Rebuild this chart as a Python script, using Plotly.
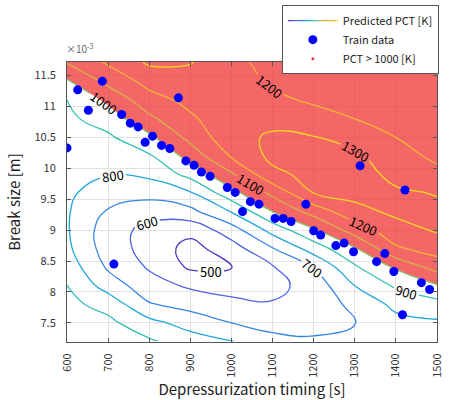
import plotly.graph_objects as go

FONT = "Noto Sans CJK JP"

# Prediction grid (depressurization timing [s], break size [x1e-3 m])
grid_x = [600, 700, 800, 900, 1000, 1100, 1200, 1300, 1400, 1500]
grid_y = [7.2, 7.5, 7.8, 8.1, 8.4, 8.7, 9.0, 9.3, 9.6, 9.9, 10.2, 10.5, 10.8, 11.1, 11.4, 11.72]

# Predicted PCT [K], one list per timing column (bottom -> top)
pct_t600 = [980, 953, 927, 901, 860, 822, 810, 810, 818, 830, 845, 862, 880, 898, 984, 1110]
pct_t700 = [955, 925, 864, 756, 685, 650, 645, 690, 748, 805, 845, 884, 943, 1022, 1126, 1215]
pct_t800 = [915, 831, 708, 640, 590, 565, 570, 638, 736, 820, 889, 978, 1079, 1159, 1233, 1315]
pct_t900 = [850, 757, 664, 586, 485, 465, 530, 671, 790, 931, 1038, 1130, 1184, 1227, 1265, 1305]
pct_t1000 = [805, 700, 627, 560, 495, 555, 652, 806, 964, 1085, 1210, 1265, 1265, 1265, 1255, 1240]
pct_t1100 = [725, 672, 608, 570, 592, 693, 837, 1000, 1125, 1275, 1325, 1315, 1270, 1224, 1185, 1150]
pct_t1200 = [715, 665, 630, 640, 705, 845, 986, 1140, 1300, 1330, 1335, 1305, 1243, 1185, 1165, 1150]
pct_t1300 = [730, 695, 730, 800, 886, 989, 1147, 1269, 1330, 1345, 1320, 1257, 1200, 1170, 1155, 1145]
pct_t1400 = [750, 770, 824, 915, 1014, 1185, 1262, 1320, 1315, 1273, 1237, 1200, 1175, 1160, 1150, 1145]
pct_t1500 = [765, 785, 862, 990, 1140, 1244, 1310, 1320, 1295, 1225, 1180, 1165, 1155, 1150, 1148, 1145]

# Training data
train_x = [600, 626, 652, 686, 733, 754, 773, 790, 808, 830, 850, 871, 889, 909, 927, 948,
           990, 1009, 1027, 1046, 1067, 1106, 1126, 1145, 1181, 1200, 1217, 1254, 1274, 1297,
           1313, 1353, 1373, 1395, 1416, 1422, 1462, 1482, 1500, 714]
train_y = [10.33, 11.27, 10.94, 11.41, 10.87, 10.73, 10.67, 10.42, 10.52, 10.37, 10.32, 11.14,
           10.12, 10.05, 9.94, 9.87, 9.69, 9.61, 9.30, 9.46, 9.42, 9.19, 9.19, 9.14, 9.42, 8.99,
           8.92, 8.75, 8.79, 8.65, 10.04, 8.49, 8.62, 8.33, 7.63, 9.65, 8.15, 8.04, 11.66, 8.45]

x_ticks = [600, 700, 800, 900, 1000, 1100, 1200, 1300, 1400, 1500]
y_ticks = [7.5, 8, 8.5, 9, 9.5, 10, 10.5, 11, 11.5]
y_tick_text = ["7.5", "8", "8.5", "9", "9.5", "10", "10.5", "11", "11.5"]

levels_start, levels_end, levels_step = 500, 1300, 100
threshold = 1000

columns = [pct_t600, pct_t700, pct_t800, pct_t900, pct_t1000,
           pct_t1100, pct_t1200, pct_t1300, pct_t1400, pct_t1500]
z = [list(row) for row in zip(*columns)]

line_colors = ["#4b3cbf", "#4d63e3", "#3585e6", "#1fa6da", "#35bfb4",
               "#86c46e", "#d3b447", "#f5b532", "#f3d81e"]
n = len(line_colors)
colorscale = [[i / (n - 1), c] for i, c in enumerate(line_colors)]

fig = go.Figure()

# Region where predicted PCT > 1000 K (plotly shades the side failing the constraint)
fig.add_trace(go.Contour(
    x=grid_x, y=grid_y, z=z,
    contours=dict(type="constraint", operation="<", value=threshold),
    fillcolor="rgba(240,50,50,0.74)",
    line=dict(width=0, smoothing=1.3),
    showscale=False, showlegend=False, hoverinfo="skip",
))

fig.add_trace(go.Contour(
    x=grid_x, y=grid_y, z=z,
    name="Predicted PCT [K]",
    autocontour=False,
    contours=dict(start=levels_start, end=levels_end, size=levels_step,
                  coloring="lines", showlabels=True,
                  labelfont=dict(size=13, color="black", family=FONT)),
    colorscale=colorscale, zmin=levels_start, zmax=levels_end,
    line=dict(width=1.3, smoothing=1.3),
    showscale=False, showlegend=True, hoverinfo="skip",
))

fig.add_trace(go.Scatter(
    x=train_x, y=train_y, mode="markers", name="Train data",
    marker=dict(color="#0000ff", size=9, line=dict(width=0)),
))

fig.add_trace(go.Scatter(
    x=[None], y=[None], mode="markers", name="PCT > 1000 [K]",
    marker=dict(color="#ff3030", size=3),
))

fig.update_layout(
    width=449, height=400,
    margin=dict(l=67, r=12, t=62, b=58, autoexpand=False),
    paper_bgcolor="white", plot_bgcolor="white",
    font=dict(family=FONT, size=11, color="#333333"),
    showlegend=True,
    legend=dict(
        x=1.005, xanchor="right", y=1.203, yanchor="top",
        bgcolor="white", bordercolor="#555555", borderwidth=1,
        font=dict(size=11, color="#222222", family=FONT),
        tracegroupgap=0, itemwidth=50,
    ),
    annotations=[dict(
        xref="paper", yref="paper", x=-0.008, y=1.0, xanchor="left", yanchor="bottom",
        yshift=4,
        text="×10<sup>-3</sup>", showarrow=False,
        font=dict(size=10, color="#666666", family=FONT),
    )],
)

fig.update_xaxes(
    range=[600, 1500], tickvals=x_ticks, tickangle=-90,
    ticks="inside", ticklen=4, tickcolor="#555555", ticklabelstandoff=6,
    showline=True, linecolor="#555555", linewidth=1, mirror="ticks",
    showgrid=True, gridcolor="#e2e2e2", gridwidth=1, zeroline=False,
    tickfont=dict(size=11, color="#333333"),
    title=dict(text="Depressurization timing [s]", font=dict(size=15, color="#222222"), standoff=3),
)
fig.update_yaxes(
    range=[7.19, 11.72], tickvals=y_ticks, ticktext=y_tick_text,
    ticks="inside", ticklen=4, tickcolor="#555555", ticklabelstandoff=8,
    showline=True, linecolor="#555555", linewidth=1, mirror="ticks",
    showgrid=True, gridcolor="#e2e2e2", gridwidth=1, zeroline=False,
    tickfont=dict(size=11, color="#333333"),
    title=dict(text="Break size [m]", font=dict(size=15, color="#222222"), standoff=10),
)

fig.write_html("out.html", config={"displayModeBar": False},
               post_script="document.body.style.margin='0px';")
